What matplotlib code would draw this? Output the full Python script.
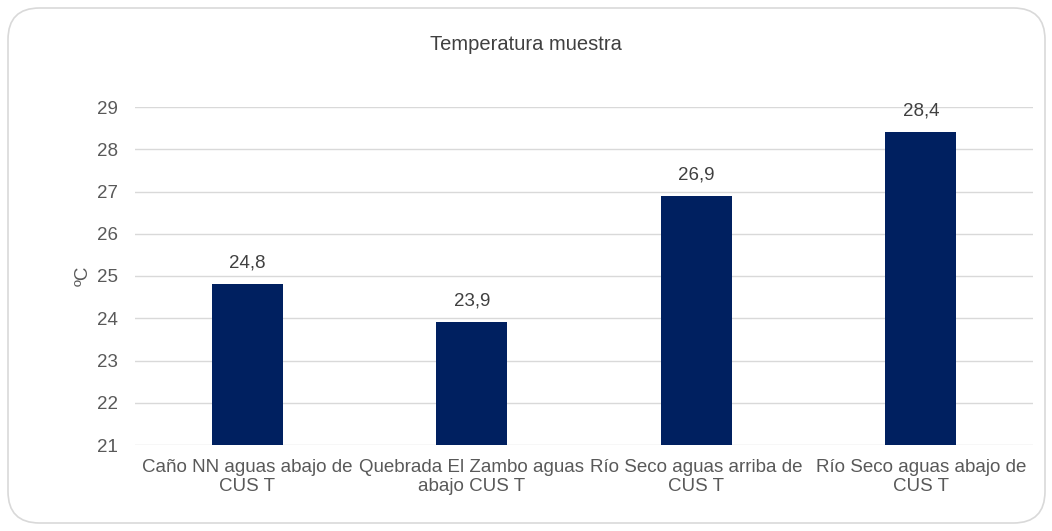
import matplotlib
matplotlib.use("Agg")
import matplotlib.pyplot as plt
from matplotlib.patches import FancyBboxPatch

categories = ["Caño NN aguas abajo de\nCUS T", "Quebrada El Zambo aguas\nabajo CUS T",
              "Río Seco aguas arriba de\nCUS T", "Río Seco aguas abajo de\nCUS T"]
values = [24.8, 23.9, 26.9, 28.4]
labels = ["24,8", "23,9", "26,9", "28,4"]
yticks = [21, 22, 23, 24, 25, 26, 27, 28, 29]

plt.rcParams['font.family'] = ['Liberation Sans', 'DejaVu Sans']
W, H = 1052, 531
fig = plt.figure(figsize=(W/100, H/100), dpi=100)
fig.patch.set_facecolor('white')

box = FancyBboxPatch((8/W, 8/H), (1037)/W, (515)/H, boxstyle="round,pad=0,rounding_size=0.03",
                     transform=fig.transFigure, facecolor='white', edgecolor='#d9d9d9', linewidth=1.2,
                     mutation_aspect=W/H, zorder=-10)
fig.patches.append(box)

ax = fig.add_axes([135/W, 1-445/H, (1033-135)/W, (445-107)/H])
ax.set_facecolor('none')
x = range(len(categories))
bars = ax.bar(x, values, width=0.316, color='#002060', bottom=0, zorder=3)
ax.set_ylim(21, 29)
ax.set_xlim(-0.5, 3.5)
ax.set_yticks(yticks)
ax.set_yticklabels([str(t) for t in yticks], fontsize=13.5, color='#595959')
ax.set_xticks(list(x))
ax.set_xticklabels(categories, fontsize=13.5, color='#595959', linespacing=1.15)
ax.tick_params(axis='x', length=0, pad=10)
ax.tick_params(axis='y', length=0, pad=12)
ax.grid(axis='y', color='#d9d9d9', linewidth=1, zorder=0)
for s in ax.spines.values():
    s.set_visible(False)
for xi, v, l in zip(x, values, labels):
    ax.text(xi, v + 0.3, l, ha='center', va='bottom', fontsize=13.5, color='#404040')
ax.set_ylabel("ºC", fontsize=13.5, color='#595959', labelpad=4)
fig.text(0.5, 1-44/H, "Temperatura muestra", ha='center', va='center', fontsize=14.5, color='#404040')
fig.savefig("out.png", dpi=100)
